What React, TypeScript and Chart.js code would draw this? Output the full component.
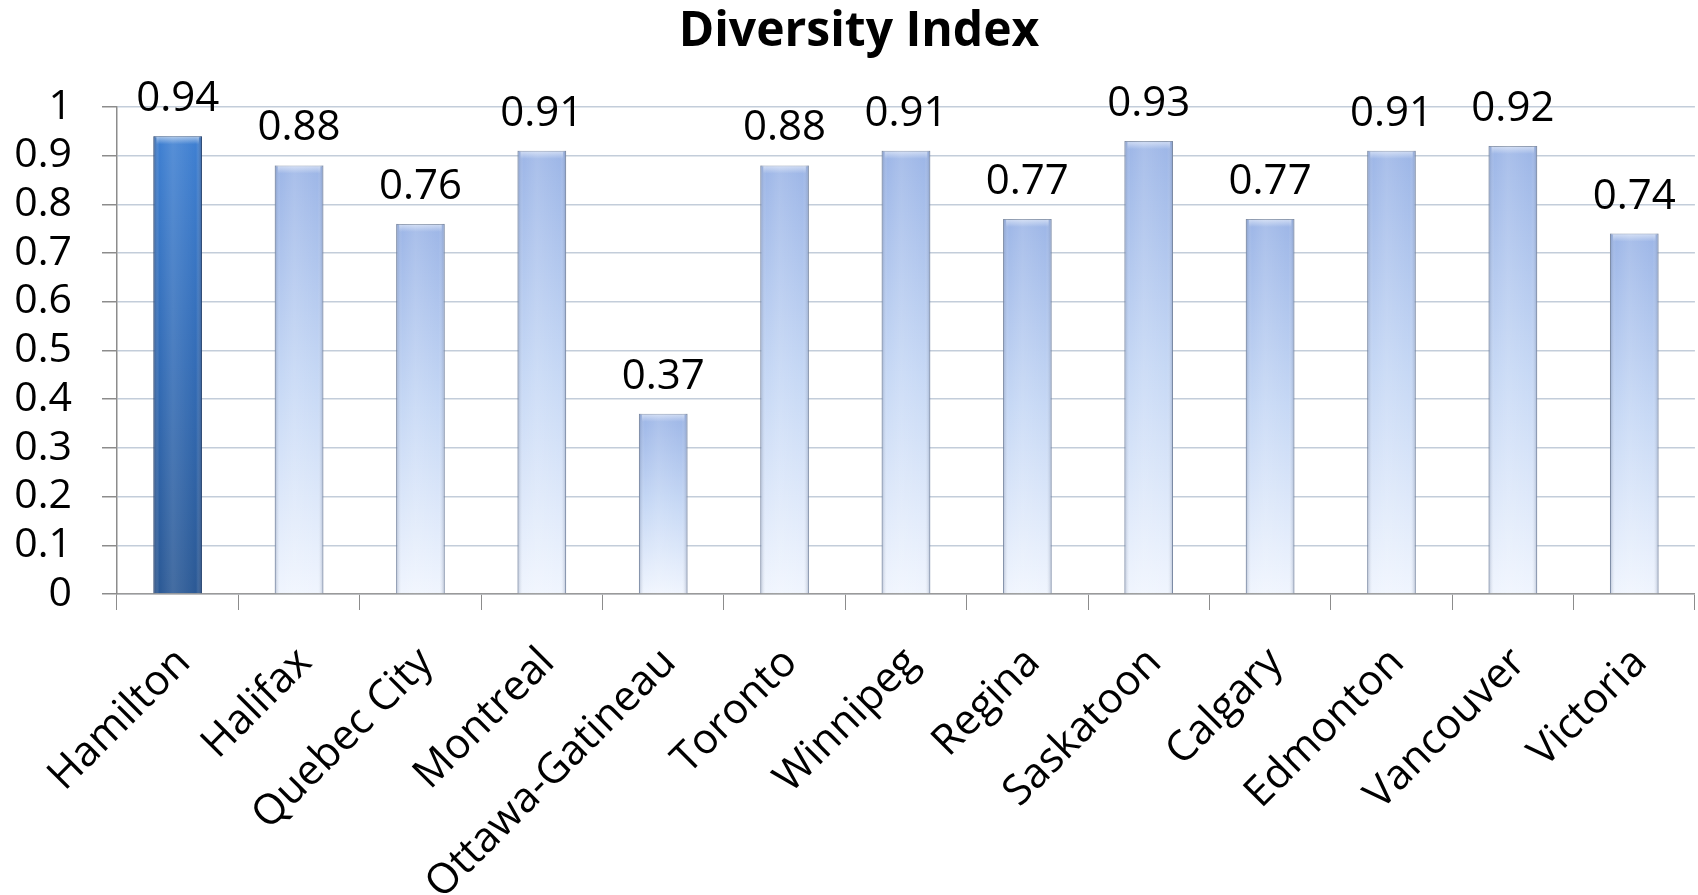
import React, { useEffect, useRef } from "react";
import { Chart, registerables } from "chart.js";

Chart.register(...registerables);

const cities: string[] = [
  "Hamilton", "Halifax", "Quebec City", "Montreal", "Ottawa-Gatineau", "Toronto",
  "Winnipeg", "Regina", "Saskatoon", "Calgary", "Edmonton", "Vancouver", "Victoria",
];
const diversityIndex: number[] = [0.94, 0.88, 0.76, 0.91, 0.37, 0.88, 0.91, 0.77, 0.93, 0.77, 0.91, 0.92, 0.74];
const highlighted: string[] = ["Hamilton"];
const yTicksMin = 0;
const yTicksMax = 1;
const yTickStep = 0.1;
const chartTitle = "Diversity Index";

const FONT = "'Open Sans', 'Liberation Sans', sans-serif";

const titlePlugin = {
  id: "centeredTitle",
  afterDraw(chart: any) {
    const ctx = chart.ctx;
    ctx.save();
    ctx.font = `bold 48px ${FONT}`;
    ctx.fillStyle = "#000";
    ctx.textAlign = "center";
    ctx.textBaseline = "alphabetic";
    ctx.fillText(chartTitle, chart.width / 2 + 10, 46);
    ctx.restore();
  },
};

const barShadePlugin = {
  id: "barShade",
  afterDatasetsDraw(chart: any) {
    const ctx = chart.ctx;
    const meta = chart.getDatasetMeta(0);
    meta.data.forEach((bar: any, i: number) => {
      const { x, y, base, width } = bar.getProps(["x", "y", "base", "width"], true);
      if (![x, y, base, width].every((n) => Number.isFinite(n))) return;
      const left = x - width / 2;
      const right = x + width / 2;
      const g = ctx.createLinearGradient(left, 0, right, 0);
      const dark = highlighted.includes(cities[i]) ? "rgba(20,40,80,0.45)" : "rgba(70,90,130,0.35)";
      g.addColorStop(0, dark);
      g.addColorStop(0.12, "rgba(255,255,255,0.0)");
      g.addColorStop(0.4, "rgba(255,255,255,0.12)");
      g.addColorStop(0.88, "rgba(255,255,255,0.0)");
      g.addColorStop(1, dark);
      ctx.save();
      ctx.fillStyle = g;
      ctx.fillRect(left, y, width, base - y);
      const tg = ctx.createLinearGradient(0, y, 0, y + 8);
      tg.addColorStop(0, "rgba(255,255,255,0.55)");
      tg.addColorStop(1, "rgba(255,255,255,0)");
      ctx.fillStyle = tg;
      ctx.fillRect(left + 3, y + 1, width - 6, 7);
      ctx.restore();
    });
  },
};

const valueLabelPlugin = {
  id: "valueLabels",
  afterDraw(chart: any) {
    const ctx = chart.ctx;
    const meta = chart.getDatasetMeta(0);
    ctx.save();
    ctx.font = `42px ${FONT}`;
    ctx.fillStyle = "#000";
    ctx.textAlign = "center";
    ctx.textBaseline = "alphabetic";
    meta.data.forEach((bar: any, i: number) => {
      if (!Number.isFinite(bar.x) || !Number.isFinite(bar.y)) return;
      ctx.fillText(diversityIndex[i].toFixed(2), bar.x, bar.y - 25);
    });
    ctx.restore();
  },
};

export default function App() {
  const canvasRef = useRef<HTMLCanvasElement | null>(null);

  useEffect(() => {
    if (!canvasRef.current) return;
    const chart = new Chart(canvasRef.current, {
      type: "bar",
      data: {
        labels: cities,
        datasets: [
          {
            label: chartTitle,
            data: diversityIndex,
            backgroundColor: (c: any) => {
              const ch = c.chart;
              const hi = highlighted.includes(cities[c.dataIndex]);
              const ys = ch.scales?.y;
              const v = c.raw as number;
              const top = ys ? ys.getPixelForValue(v) : NaN;
              const bottom = ys ? ys.getPixelForValue(0) : NaN;
              if (!Number.isFinite(top) || !Number.isFinite(bottom) || top === bottom) {
                return hi ? "#3672c0" : "#c4d6f4";
              }
              const g = ch.ctx.createLinearGradient(0, top, 0, bottom);
              if (hi) {
                g.addColorStop(0, "#3f80d2");
                g.addColorStop(0.5, "#336cb6");
                g.addColorStop(1, "#2b5995");
              } else {
                g.addColorStop(0, "#9db6e7");
                g.addColorStop(0.5, "#c6d8f5");
                g.addColorStop(1, "#f0f5fe");
              }
              return g;
            },
            borderColor: (c: any) =>
              highlighted.includes(cities[c.dataIndex]) ? "#2a4f80" : "#8e9bb0",
            borderWidth: 1,
            barPercentage: 0.8,
            categoryPercentage: 0.5,
          },
        ],
      },
      options: {
        animation: false,
        responsive: true,
        maintainAspectRatio: false,
        devicePixelRatio: 1,
        layout: { padding: { left: 0, right: 3, top: 107, bottom: 0 } },
        plugins: {
          legend: { display: false },
          tooltip: { enabled: false },
          title: { display: false },
        },
        scales: {
          x: {
            grid: {
              display: true,
              drawOnChartArea: false,
              drawTicks: true,
              tickLength: 16,
              color: "#8c8c8c",
              offset: true,
            },
            border: { display: true, color: "#9a9a9a", width: 1.5 },
            ticks: {
              autoSkip: false,
              minRotation: 45,
              maxRotation: 45,
              color: "#000",
              padding: 28,
              labelOffset: 6,
              font: { family: FONT, size: 42 },
            },
            afterFit: (s: any) => {
              s.height = 301;
            },
          },
          y: {
            min: yTicksMin,
            max: yTicksMax,
            grid: {
              color: "#c3cdda",
              lineWidth: 1.5,
              tickLength: 15,
              tickColor: "#8c8c8c",
            },
            border: { display: true, color: "#8c8c8c", width: 1.5 },
            ticks: {
              stepSize: yTickStep,
              autoSkip: false,
              color: "#000",
              padding: 30,
              font: { family: FONT, size: 41 },
              callback: (v: any) => String(parseFloat(Number(v).toFixed(1))),
            },
            afterFit: (s: any) => {
              s.width = 117;
            },
          },
        },
      },
      plugins: [barShadePlugin, valueLabelPlugin, titlePlugin],
    });
    return () => chart.destroy();
  }, []);

  return (
    <div style={{ position: "fixed", left: 0, top: 0, width: 1698, height: 895, background: "#fff" }}>
      <canvas ref={canvasRef} />
    </div>
  );
}
